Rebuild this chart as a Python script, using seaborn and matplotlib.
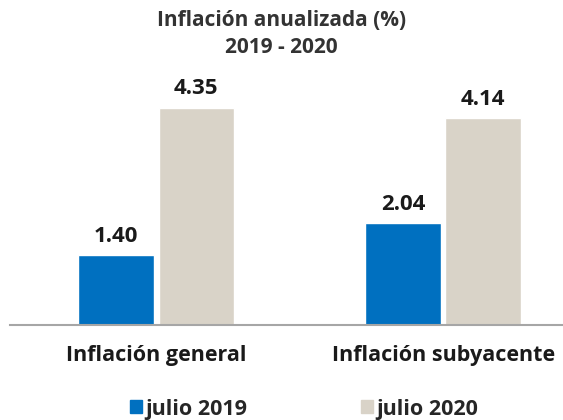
import pandas as pd
import matplotlib.pyplot as plt
import seaborn as sns

# Data
categorias = ['Inflación general', 'Inflación subyacente']
periodos = ['julio 2019', 'julio 2020']
valores_2019 = [1.40, 2.04]
valores_2020 = [4.35, 4.14]
colores = ['#0070C0', '#D9D3C8']


def main():
    df = pd.DataFrame({
        'categoria': categorias * 2,
        'periodo': [periodos[0]] * 2 + [periodos[1]] * 2,
        'valor': valores_2019 + valores_2020,
    })

    sns.set_style('white')
    plt.rcParams['font.family'] = ['Open Sans', 'DejaVu Sans']

    fig = plt.figure(figsize=(5.63, 4.2), dpi=100)
    ax = fig.add_axes([0.018, 0.226, 0.982, 0.595])

    sns.barplot(data=df, x='categoria', y='valor', hue='periodo',
                palette=colores, saturation=1, width=0.56, gap=0.06,
                ax=ax, legend=False)

    for cont in ax.containers:
        ax.bar_label(cont, fmt='%.2f', padding=6, fontsize=16,
                     fontweight='bold', color='#1a1a1a')

    ax.set_xlim(-0.509, 1.418)
    ax.set_ylim(0, 5)
    ax.set_xlabel('')
    ax.set_ylabel('')
    ax.set_yticks([])
    ax.tick_params(axis='x', length=0, pad=14, labelsize=15.5)
    for lbl in ax.get_xticklabels():
        lbl.set_fontweight('bold')
        lbl.set_color('#1a1a1a')
    sns.despine(ax=ax, left=True)
    ax.spines['bottom'].set_color('#A6A6A6')
    ax.spines['bottom'].set_linewidth(1.5)

    fig.suptitle('Inflación anualizada (%)\n2019 - 2020', y=0.975,
                 fontsize=15, fontweight='bold', color='#333333',
                 linespacing=1.35)

    handles = [plt.Rectangle((0, 0), 1, 1, color=c) for c in colores]
    fig.legend(handles, periodos, loc='lower center', ncol=2,
               bbox_to_anchor=(0.54, -0.045), frameon=False,
               prop={'size': 15.5, 'weight': 'bold'},
               handlelength=0.55, handleheight=0.55, handletextpad=0.15,
               columnspacing=5.3)

    fig.savefig('out.png', dpi=100)


if __name__ == "__main__":
    main()
